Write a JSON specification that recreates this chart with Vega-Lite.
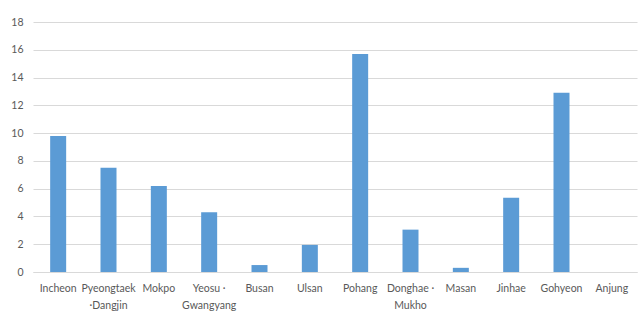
{
  "$schema": "https://vega.github.io/schema/vega-lite/v6.json",
  "width": 604,
  "height": 250,
  "autosize": {"type": "none"},
  "padding": {"left": 33, "top": 22, "right": 7, "bottom": 51},
  "background": "white",
  "data": {
    "values": [
      {"port": "Incheon", "value": 9.8},
      {"port": "Pyeongtaek| ·Dangjin", "value": 7.5},
      {"port": "Mokpo", "value": 6.2},
      {"port": "Yeosu ·|Gwangyang", "value": 4.3},
      {"port": "Busan", "value": 0.5},
      {"port": "Ulsan", "value": 1.95},
      {"port": "Pohang", "value": 15.7},
      {"port": "Donghae ·|Mukho", "value": 3.05},
      {"port": "Masan", "value": 0.3},
      {"port": "Jinhae", "value": 5.35},
      {"port": "Gohyeon", "value": 12.9},
      {"port": "Anjung", "value": 0}
    ]
  },
  "mark": {"type": "bar", "color": "#5B9BD5", "width": 16},
  "encoding": {
    "x": {
      "field": "port",
      "type": "nominal",
      "sort": null,
      "title": null,
      "axis": {
        "labelAngle": 0,
        "labelExpr": "split(datum.label, '|')",
        "labelFont": "Lato",
        "labelFontSize": 10.5,
        "labelColor": "#595959",
        "labelLineHeight": 17,
        "labelPadding": 11,
        "labelBaseline": "top",
        "ticks": false,
        "domainColor": "#D9D9D9",
        "labelLimit": 0
      }
    },
    "y": {
      "field": "value",
      "type": "quantitative",
      "scale": {"domain": [0, 18], "nice": false},
      "title": null,
      "axis": {
        "values": [0, 2, 4, 6, 8, 10, 12, 14, 16, 18],
        "labelFont": "Lato",
        "labelFontSize": 10.5,
        "labelColor": "#595959",
        "labelPadding": 10,
        "ticks": false,
        "domain": false,
        "gridColor": "#D9D9D9",
        "gridWidth": 1
      }
    }
  },
  "config": {"view": {"stroke": null}}
}
